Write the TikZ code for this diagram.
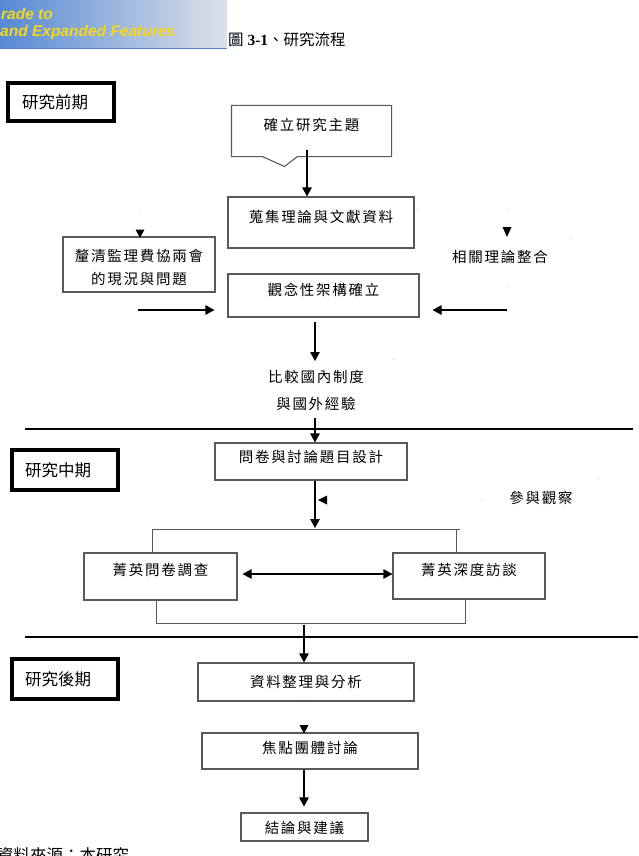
\documentclass[tikz,border=0pt]{standalone}
\usepackage{fontspec}
\setmainfont{Liberation Serif}
\newfontfamily\cjk{Noto Sans CJK TC}
\newfontfamily\cjksp[LetterSpace=12]{Noto Sans CJK TC}
\newfontfamily\bannerfont{Liberation Sans}
\usetikzlibrary{arrows.meta,calc}
\definecolor{boxgray}{gray}{0.35}
\definecolor{bannerblue}{RGB}{86,138,212}
\definecolor{bannergray}{RGB}{222,225,231}
\definecolor{banneryellow}{RGB}{246,214,28}
\definecolor{bannerline}{RGB}{90,130,200}
\newcommand\mv[2]{\raisebox{#1}[\height][\depth]{#2}}
\begin{document}
\begin{tikzpicture}[x=1pt,y=-1pt,
  box/.style={draw=boxgray,line width=1.1pt,inner sep=0pt,font=\fontsize{14.5pt}{17pt}\cjksp},
  lbl/.style={inner sep=0pt,font=\fontsize{14.5pt}{17pt}\cjksp},
  stage/.style={draw=black,line width=4pt,inner ysep=0pt,align=left,font=\fontsize{16.5pt}{18pt}\cjk},
  arr/.style={-{Triangle[width=9.5pt,length=9pt]},line width=1.1pt},
  dblarr/.style={{Triangle[width=9.5pt,length=9pt]}-{Triangle[width=9.5pt,length=9pt]},line width=1.1pt},
  ln/.style={draw=boxgray,line width=1pt},
  sep/.style={line width=2.6pt},
  head/.style={fill=black},
  speck/.style={fill=gray!60}
]
\useasboundingbox (0,0) rectangle (638,856);

% title and banner
\node[anchor=west,inner sep=0pt,font=\fontsize{15.5pt}{18pt}\selectfont] (title) at (228,40) {{\cjk 圖} {\bfseries 3-1}{\cjk 、研究流程}};
\shade[left color=bannerblue,right color=bannergray] (0,0) rectangle (227,49);
\draw[bannerline,line width=1pt] (0,49) -- (227,49);
\node[anchor=west,inner sep=0pt,text=banneryellow,font=\fontsize{15.5pt}{17pt}\bannerfont\bfseries\itshape] (up1) at (1,14) {rade to};
\node[anchor=west,inner sep=0pt,text=banneryellow,font=\fontsize{15.5pt}{17pt}\bannerfont\bfseries\itshape] (up2) at (0,32) {and Expanded Features};

% stage labels
\node[stage,text width=77.7pt,inner xsep=14.3pt,minimum height=38.3pt] (pre) at (60.85,101.85) {研究前期};
\node[stage,text width=80pt,inner xsep=13pt,minimum height=40pt] (mid) at (65,470) {研究中期};
\node[stage,text width=80pt,inner xsep=13pt,minimum height=40pt] (post) at (65,679) {研究後期};

% boxes
\node[box,draw=none,minimum width=159pt,minimum height=50pt] (topic) at (311.5,131) {\mv{6pt}{確立研究主題}};
\draw[ln,line width=1.1pt] (topic.south west) -- ([xshift=31pt]topic.south west) -- ([xshift=53pt,yshift=-10pt]topic.south west) -- ([xshift=66pt]topic.south west) -- (topic.south east) -- (topic.north east) -- (topic.north west) -- cycle;
\node[box,minimum width=186pt,minimum height=51pt] (collect) at (321,222.5) {\mv{5.5pt}{蒐集理論與文獻資料}};
\node[box,minimum width=152pt,minimum height=55pt] (clarify) at (139,264.5) {\mv{-4pt}{\fontsize{14.5pt}{23pt}\selectfont\begin{tabular}{@{}c@{}}釐清監理費協兩會\\的現況與問題\end{tabular}}};
\node[box,minimum width=191pt,minimum height=43pt] (concept) at (323.5,295.5) {\mv{5.5pt}{觀念性架構確立}};
\node[lbl] (related) at (500,257) {相關理論整合};
\node[lbl] (compare) at (316,390.5) {\fontsize{14.5pt}{27pt}\selectfont\begin{tabular}{@{}c@{}}比較國內制度\\與國外經驗\end{tabular}};
\node[box,minimum width=192pt,minimum height=37pt] (design) at (311,461.5) {\mv{4.5pt}{問卷與討論題目設計}};
\node[lbl] (observe) at (541,498) {參與觀察};
\node[box,minimum width=153pt,minimum height=47pt] (survey) at (160.5,576.5) {\mv{6.5pt}{菁英問卷調查}};
\node[box,minimum width=152pt,minimum height=46pt] (interview) at (469,576) {\mv{6.5pt}{菁英深度訪談}};
\node[box,minimum width=216pt,minimum height=38pt] (analyze) at (306,682) {資料整理與分析};
\node[box,minimum width=216pt,minimum height=36pt] (focus) at (310,751) {\mv{3pt}{焦點團體討論}};
\node[box,minimum width=127pt,minimum height=28pt] (conclude) at (304.5,827) {\mv{-1pt}{結論與建議}};
\node[anchor=base west,inner sep=0pt,font=\fontsize{16.5pt}{18pt}\cjk] (src) at (-3,861) {資料來源：本研究};

% separators
\draw[sep] (25,429) -- (633,429);
\draw[sep] (25,637) -- (638,637);

% connectors
\coordinate (t1) at (307,150);
\draw[arr] (t1) -- (t1 |- collect.north);
\coordinate (l1) at (138,310);
\draw[arr,shorten >=13pt] (l1) -- (l1 -| concept.west);
\coordinate (r1) at (507,310);
\draw[arr,shorten >=13pt] (r1) -- (r1 -| concept.east);
\coordinate (c1) at (315,322);
\coordinate (c2) at (315,361);
\draw[arr] (c1) -- (c2);
\coordinate (d0) at (315,418);
\draw[arr] (d0) -- (d0 |- design.north);
\coordinate (bt) at (315,529);
\draw[arr,shorten >=1pt] (design.south -| bt) -- (bt);
\coordinate (bl) at (152,529);
\coordinate (br) at (460,529);
\coordinate (bri) at (456,529);
\draw[ln] (bl |- survey.north) -- (bl) -- (br);
\draw[ln] (bri) -- (bri |- interview.north);
\draw[dblarr] ([xshift=5pt,yshift=2.5pt]survey.east) -- ([yshift=2pt]interview.west);
\coordinate (ml) at (156,623);
\coordinate (mr) at (465,623);
\draw[ln] (ml |- survey.south) -- (ml) -- (mr) -- (mr |- interview.south);
\coordinate (m0) at (304,624.5);
\draw[arr] (m0) -- (m0 |- analyze.north);
\draw[arr,shorten >=6pt] (focus.south -| m0) -- (conclude.north -| m0);

% lone arrowheads
\fill[head] (135.5,229.5) -- (144.5,229.5) -- (140,238) -- cycle;
\fill[head] (502.5,227) -- (511.5,227) -- (507,237) -- cycle;
\fill[head] (318,500) -- (327,495.5) -- (327,504.5) -- cycle;
\fill[head] (299.5,725) -- (308.5,725) -- (304,733.5) -- cycle;

% specks
\foreach \p in {(140,213),(418,210),(507,210),(571,237),(507,286),(482,500),(598,479),(393,359),(304,698)}
  \fill[speck] \p circle (0.7);
\end{tikzpicture}
\end{document}
